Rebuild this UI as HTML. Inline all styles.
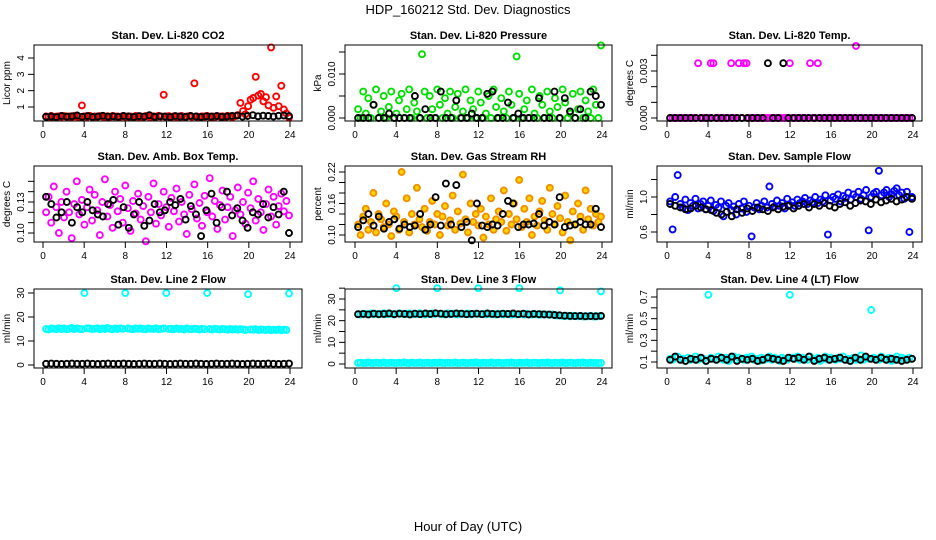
<!DOCTYPE html>
<html><head><meta charset="utf-8"><style>
html,body{margin:0;padding:0;background:#fff;}
svg{display:block;font-family:"Liberation Sans",Arial,sans-serif;}
</style></head><body>
<svg id="chart" width="936" height="540" viewBox="0 0 936 540" xmlns="http://www.w3.org/2000/svg">
<text x="468" y="14" text-anchor="middle" font-size="13">HDP_160212  Std. Dev. Diagnostics</text>
<text x="468" y="531" text-anchor="middle" font-size="13">Hour of Day (UTC)</text>
</svg>
<script>
const xTicks=[0,4,8,12,16,20,24];
const co2Red=[0.42,0.40,0.45,0.38,0.41,0.43,0.39,0.44,0.40,0.42,0.37,0.45,0.41,0.40,1.10,0.43,0.39,0.46,0.40,0.42,0.38,0.44,0.41,0.40,0.43,0.39,0.45,0.41,0.42,0.38,0.44,0.40,0.43,0.41,0.39,0.45,0.40,0.42,0.38,0.44,0.41,0.40,0.43,0.39,0.46,0.42,1.75,0.41,0.44,0.38,0.43,0.40,0.42,0.45,0.39,0.41,0.44,0.40,2.45,0.42,0.38,0.43,0.41,0.45,0.40,0.42,0.39,0.44,0.41,0.43,0.40,0.46,0.42,0.39,0.44,0.50,1.25,0.75,0.55,1.05,1.45,1.55,2.85,1.70,1.80,1.35,1.60,1.10,4.65,0.95,1.65,1.05,2.30,0.85,0.60,0.35];
const co2Black=[0.40,0.42,0.38,0.45,0.41,0.43,0.48,0.40,0.44,0.39,0.42,0.46,0.41,0.43,0.40,0.45,0.42,0.39,0.44,0.41,0.50,0.40,0.43,0.42,0.38,0.44,0.41,0.40,0.45,0.42,0.39,0.43,0.41,0.44,0.40,0.42,0.45,0.48,0.41,0.45,0.50,0.43,0.47,0.45,0.42,0.46,0.48,0.44];
const presGreen=[0.0020,0,0.0060,0.0010,0.0045,0,0.0030,0.0065,0,0.0015,0.0050,0,0.0025,0.0060,0,0.0010,0.0040,0.0055,0,0.0020,0.0065,0,0.0035,0.0015,0,0.0145,0.0060,0,0.0050,0.0020,0,0.0065,0.0030,0,0.0045,0.0010,0.0060,0,0.0025,0.0055,0,0.0015,0.0065,0,0.0040,0.0020,0,0.0060,0.0035,0,0.0010,0.0050,0,0.0065,0.0025,0,0.0045,0.0015,0,0.0060,0.0030,0,0.0140,0.0055,0,0.0020,0.0040,0,0.0065,0.0010,0,0.0050,0.0030,0,0.0060,0.0015,0,0.0045,0.0025,0,0.0065,0.0035,0,0.0010,0.0055,0,0.0020,0.0060,0,0.0040,0.0015,0,0.0065,0.0030,0,0.0165];
const presBlack=[0,0,0,0.0030,0,0,0.0010,0,0,0,0,0.0050,0,0.0020,0,0,0.0060,0,0,0.0040,0,0,0.0010,0,0,0.0055,0.0060,0,0,0.0035,0,0.0010,0,0,0,0.0045,0,0,0.0060,0,0.0045,0.0015,0,0.0020,0,0.0060,0.0050,0.0030];
const tempMag=[0,0,0,0,0,0,0,0,0,0,0,0.0035,0,0,0,0,0.0035,0.0035,0,0,0,0,0,0,0.0035,0,0,0.0035,0,0.0035,0.0035,0,0,0,0,0,0,0,0,0,0,0,0,0,0,0,0,0.0035,0,0,0,0,0,0,0,0.0035,0,0,0.0035,0,0,0,0,0,0,0,0,0,0,0,0,0,0,0.0046,0,0,0,0,0,0,0,0,0,0,0,0,0,0,0,0,0,0,0,0,0,0];
const tempBlack=[0,0,0,0,0,0,0,0,0,0,0,0,0,0,0,0,0,0,0,0.0035,0,0,0.0035,0,0,0,0,0,0,0,0,0,0,0,0,0,0,0,0,0,0,0,0,0,0,0,0,0];
const ambMag=[.12,.135,.11,.145,.125,.10,.13,.115,.14,.12,.095,.128,.15,.118,.132,.108,.125,.142,.112,.137,.122,.098,.13,.152,.116,.127,.105,.14,.121,.133,.11,.146,.124,.102,.131,.119,.138,.113,.126,.092,.135,.12,.148,.109,.128,.117,.14,.125,.106,.134,.121,.143,.111,.13,.118,.099,.137,.123,.147,.114,.129,.107,.136,.12,.153,.116,.131,.104,.127,.141,.113,.125,.135,.097,.122,.144,.118,.13,.109,.139,.124,.15,.112,.133,.12,.103,.128,.142,.116,.135,.108,.126,.138,.121,.131,.117];
const ambBlack=[.135,.128,.115,.12,.13,.11,.125,.12,.13,.122,.118,.116,.128,.132,.108,.125,.105,.118,.13,.107,.112,.128,.12,.122,.13,.127,.133,.113,.126,.118,.097,.122,.138,.11,.125,.14,.117,.124,.112,.105,.12,.118,.128,.115,.125,.118,.14,.10];
const rhOrange=[.12,.10,.135,.15,.11,.125,.18,.105,.14,.13,.115,.16,.12,.098,.145,.135,.11,.22,.125,.17,.105,.14,.12,.19,.13,.115,.15,.108,.125,.165,.12,.14,.1,.135,.155,.118,.128,.175,.11,.145,.122,.215,.13,.105,.16,.125,.14,.118,.15,.095,.135,.12,.17,.11,.13,.145,.125,.185,.108,.14,.12,.16,.13,.205,.115,.15,.125,.17,.1,.135,.118,.145,.165,.128,.11,.19,.14,.12,.155,.132,.105,.175,.125,.09,.145,.12,.16,.135,.11,.185,.13,.15,.118,.14,.125,.135];
const rhBlack=[.115,.128,.14,.118,.135,.112,.125,.13,.112,.12,.115,.118,.14,.11,.12,.172,.118,.198,.12,.195,.115,.125,.09,.16,.118,.115,.12,.118,.14,.165,.16,.115,.12,.12,.122,.14,.118,.125,.12,.172,.115,.118,.12,.125,.12,.12,.15,.115];
const flowBlue=[.95,.63,1.0,1.25,.92,.88,.97,.85,.93,.9,.98,.87,.92,.95,.86,.9,.96,.84,.91,.88,.95,.78,.9,.93,.85,.89,.8,.92,.87,.95,.83,.9,.55,.88,.93,.86,.9,.95,.88,1.12,.92,.89,.96,.9,.93,.87,.98,.91,.94,.9,.97,.93,.95,.99,.92,.96,.94,1.0,.93,.97,.95,1.02,.57,.96,1.0,.98,1.03,.95,1.01,.99,1.05,.97,1.03,1.0,1.06,.98,1.02,1.08,.62,1.0,1.04,1.06,1.3,1.02,1.05,1.08,1.0,1.03,1.07,1.1,1.02,1.05,.98,1.06,.6,1.0];
const flowBlack=[.92,.9,.88,.86,.87,.9,.88,.86,.85,.82,.8,.83,.78,.86,.82,.87,.84,.88,.86,.84,.88,.86,.89,.9,.87,.9,.92,.88,.92,.9,.93,.9,.88,.92,.94,.9,.93,.96,.95,.92,.97,.94,.96,.98,.95,.97,1.0,.98];
const line2Cyan=[15.0,14.8,15.2,15.1,14.9,15.3,15.0,15.2,14.9,15.1,15.4,15.0,15.2,15.1,14.9,30,15.3,15.2,15.0,15.1,15.3,14.9,15.2,15.0,15.4,15.1,14.9,15.2,15.0,15.3,15.1,30,15.2,15.0,14.9,15.3,15.1,15.2,15.0,14.9,15.2,15.1,15.0,15.3,14.9,15.1,15.2,30,15.0,15.1,14.9,15.2,15.0,15.1,14.8,15.2,15.0,14.9,15.1,15.0,14.8,15.1,14.9,30,15.0,14.8,15.1,14.9,14.8,15.0,14.9,14.7,15.0,14.8,14.9,14.7,14.9,14.8,14.6,29.5,14.8,14.7,14.9,14.6,14.8,14.7,14.6,14.8,14.5,14.7,14.6,14.8,14.5,14.7,14.6,29.8];
const line2Black=[0.5,0.6,0.5,0.4,0.5,0.6,0.5,0.5,0.6,0.5,0.4,0.5,0.6,0.5,0.5,0.6,0.5,0.4,0.5,0.6,0.5,0.5,0.6,0.5,0.4,0.5,0.6,0.5,0.5,0.6,0.5,0.4,0.5,0.6,0.5,0.5,0.6,0.5,0.4,0.5,0.6,0.5,0.5,0.6,0.5,0.4,0.5,0.6];
const line3CyanHigh=[23.0,22.8,23.2,23.1,22.9,23.3,23.0,23.2,22.9,23.1,23.4,23.0,23.2,23.1,22.9,35,23.3,23.2,23.0,23.1,23.3,22.9,23.2,23.0,23.4,23.1,22.9,23.2,23.0,23.3,23.1,35,23.2,23.0,22.9,23.3,23.1,23.2,23.0,22.9,23.2,23.1,23.0,23.3,22.9,23.1,23.2,35,23.0,23.1,22.9,23.2,23.0,23.1,22.8,23.2,23.0,22.9,23.1,23.0,22.8,23.1,22.9,35,23.0,22.8,23.1,22.9,22.8,23.0,22.9,22.7,23.0,22.8,22.9,22.7,22.9,22.5,22.4,34,22.2,22.1,22.3,22.0,22.2,22.1,22.0,22.2,21.9,22.1,22.0,22.2,21.9,22.1,22.0,33.5];
const line3CyanLow=[0.5,0.6,0.4,0.5,0.7,0.5,0.4,0.6,0.5,0.5,0.7,0.4,0.5,0.6,0.5,0.4,0.6,0.5,0.7,0.5,0.4,0.6,0.5,0.5,0.7,0.4,0.5,0.6,0.5,0.4,0.6,0.5,0.7,0.5,0.4,0.6,0.5,0.5,0.7,0.4,0.5,0.6,0.5,0.4,0.6,0.5,0.7,0.5,0.4,0.6,0.5,0.5,0.7,0.4,0.5,0.6,0.5,0.4,0.6,0.5,0.7,0.5,0.4,0.6,0.5,0.5,0.7,0.4,0.5,0.6,0.5,0.4,0.6,0.5,0.7,0.5,0.4,0.6,0.5,0.5,0.7,0.4,0.5,0.6,0.5,0.4,0.6,0.5,0.7,0.5,0.4,0.6,0.5,0.5,0.4,0.5];
const line3Black=[23.0,23.1,22.9,23.2,23.0,23.1,23.3,23.0,23.2,23.1,22.9,23.2,23.0,23.3,23.1,23.4,23.2,23.0,23.1,23.3,23.2,23.0,23.1,23.2,23.0,23.3,23.1,23.0,23.2,23.1,23.3,23.0,23.2,22.9,23.1,23.0,22.9,22.8,22.6,22.5,22.3,22.2,22.1,22.2,22.0,22.1,22.0,22.2];
const line4Cyan=[.13,.12,.14,.15,.12,.13,.11,.14,.12,.13,.15,.12,.14,.13,.11,.72,.14,.13,.12,.15,.13,.12,.14,.11,.13,.15,.12,.14,.13,.12,.14,.13,.15,.12,.13,.11,.14,.12,.13,.15,.12,.14,.13,.11,.14,.13,.12,.72,.14,.13,.15,.12,.14,.13,.12,.15,.13,.12,.14,.11,.13,.15,.12,.14,.13,.12,.14,.13,.15,.12,.13,.11,.14,.12,.13,.16,.12,.14,.13,.58,.14,.13,.12,.15,.13,.12,.14,.11,.13,.15,.12,.14,.13,.12,.14,.13];
const line4Black=[.12,.15,.12,.11,.13,.12,.14,.11,.13,.12,.14,.12,.15,.11,.13,.12,.13,.11,.12,.14,.13,.12,.11,.14,.13,.14,.12,.15,.11,.13,.14,.12,.13,.14,.12,.11,.14,.12,.15,.13,.12,.14,.12,.13,.12,.11,.12,.13];

const NS='http://www.w3.org/2000/svg';
const svg=document.getElementById('chart');
function el(tag,attrs,parent){const e=document.createElementNS(NS,tag);for(const k in attrs)e.setAttribute(k,attrs[k]);(parent||svg).appendChild(e);return e;}

const cols=[{bx0:34,bx1:302,x0:43,x24:290},{bx0:345,bx1:612,x0:355,x24:602},{bx0:657,bx1:922,x0:667,x24:913}];
const rows=[{by0:45,by1:121},{by0:166,by1:242},{by0:289,by1:368}];

const panels=[
 {c:0,r:0,name:'co2',title:'Stan. Dev. Li-820 CO2',ylab:'Licor ppm',ym:[1,107,4,58],yt:[1,2,3,4],yl:[1,2,3,4],fmt:v=>String(v),series:[[co2Red,'#ff0000','none'],[co2Black,'#000','none']]},
 {c:1,r:0,name:'pressure',title:'Stan. Dev. Li-820 Pressure',ylab:'kPa',ym:[0,118,0.010,74],yt:[0,0.005,0.010,0.015],yl:[0,0.010],fmt:v=>v.toFixed(3),series:[[presGreen,'#00e000','none'],[presBlack,'#000','none']]},
 {c:2,r:0,name:'temp',title:'Stan. Dev. Li-820 Temp.',ylab:'degrees C',ym:[0,118,0.003,71],yt:[0,0.001,0.002,0.003,0.004],yl:[0,0.003],fmt:v=>v.toFixed(3),series:[[tempMag,'#ff00ff','none'],[tempBlack,'#000','none']]},
 {c:0,r:1,name:'amb-box-temp',title:'Stan. Dev. Amb. Box Temp.',ylab:'degrees C',ym:[0.10,233,0.13,202],yt:[0.10,0.11,0.12,0.13,0.14,0.15],yl:[0.10,0.13],fmt:v=>v.toFixed(2),series:[[ambMag,'#ff00ff','none'],[ambBlack,'#000','none']]},
 {c:1,r:1,name:'gas-rh',title:'Stan. Dev. Gas Stream RH',ylab:'percent',ym:[0.10,235,0.22,172],yt:[0.10,0.12,0.14,0.16,0.18,0.20,0.22],yl:[0.10,0.16,0.22],fmt:v=>v.toFixed(2),series:[[rhOrange,'#f09000','#ffd400'],[rhBlack,'#000','none']]},
 {c:2,r:1,name:'sample-flow',title:'Stan. Dev. Sample Flow',ylab:'ml/min',ym:[0.6,232,1.0,197],yt:[0.6,0.8,1.0,1.2],yl:[0.6,1.0],fmt:v=>v.toFixed(1),series:[[flowBlue,'#0000ff','none'],[flowBlack,'#000','none']]},
 {c:0,r:2,name:'line2-flow',title:'Stan. Dev. Line 2 Flow',ylab:'ml/min',ym:[0,365,30,293],yt:[0,10,20,30],yl:[0,10,20,30],fmt:v=>String(v),series:[[line2Cyan,'#00ffff','none'],[line2Black,'#000','none']]},
 {c:1,r:2,name:'line3-flow',title:'Stan. Dev. Line 3 Flow',ylab:'ml/min',ym:[0,364,30,299],yt:[0,5,10,15,20,25,30,35],yl:[0,10,20,30],fmt:v=>String(v),series:[[line3CyanHigh,'#00ffff','none'],[line3CyanLow,'#00ffff','none'],[line3Black,'#000','none']]},
 {c:2,r:2,name:'line4-flow',title:'Stan. Dev. Line 4 (LT) Flow',ylab:'ml/min',ym:[0.1,362,0.7,297],yt:[0.1,0.2,0.3,0.4,0.5,0.6,0.7],yl:[0.1,0.3,0.5,0.7],fmt:v=>v.toFixed(1),series:[[line4Cyan,'#00ffff','none'],[line4Black,'#000','none']]}
];

panels.forEach(p=>{
 const C=cols[p.c],R=rows[p.r];
 const xs=h=>C.x0+(C.x24-C.x0)*h/24;
 const ys=v=>p.ym[1]+(v-p.ym[0])*(p.ym[3]-p.ym[1])/(p.ym[2]-p.ym[0]);
 const g=el('g',{});
 
 
 const t=el('text',{x:(C.bx0+C.bx1)/2,y:R.by0-6,'text-anchor':'middle','font-size':'11','font-weight':'bold'},g);
 t.textContent=p.title;
 
 
 p.series.forEach((s,si)=>{
  const sg=el('g',{stroke:s[1],fill:s[2],'stroke-width':s[1]==='#000'?1.9:1.9},g);
  
  
  const arr=s[0],n=arr.length;
  arr.forEach((v,i)=>{
   const h=0.3+i*(23.6/(n-1));
   const c=el('circle',{cx:xs(h).toFixed(1),cy:ys(v).toFixed(1),r:3},sg);
   
   
  });
 });
 const b=el('rect',{x:C.bx0,y:R.by0,width:C.bx1-C.bx0,height:R.by1-R.by0,fill:'none',stroke:'#000','stroke-width':1},g);
 
 
 const xa=el('g',{stroke:'#000','stroke-width':1},g);
 
 
 xTicks.forEach(h=>{
  el('line',{x1:xs(h),x2:xs(h),y1:R.by1,y2:R.by1+6},xa);
  const tl=el('text',{x:xs(h),y:R.by1+17,'text-anchor':'middle','font-size':'10',stroke:'none',fill:'#000'},xa);
  tl.textContent=h;
  
  
 });
 const ya=el('g',{stroke:'#000','stroke-width':1},g);
 
 
 p.yt.forEach(v=>{el('line',{x1:C.bx0-6,x2:C.bx0,y1:ys(v),y2:ys(v)},ya);});
 p.yl.forEach(v=>{
  const tx=C.bx0-10,ty=ys(v);
  const tl=el('text',{x:tx,y:ty,transform:`rotate(-90 ${tx} ${ty})`,'text-anchor':'middle','font-size':'10',stroke:'none',fill:'#000'},ya);
  tl.textContent=p.fmt(v);
  
  
 });
 const lx=C.bx0-24,ly=(R.by0+R.by1)/2;
 const yl=el('text',{x:lx,y:ly,transform:`rotate(-90 ${lx} ${ly})`,'text-anchor':'middle','font-size':'10'},g);
 yl.textContent=p.ylab;
 
 
});
</script>
</body></html>
